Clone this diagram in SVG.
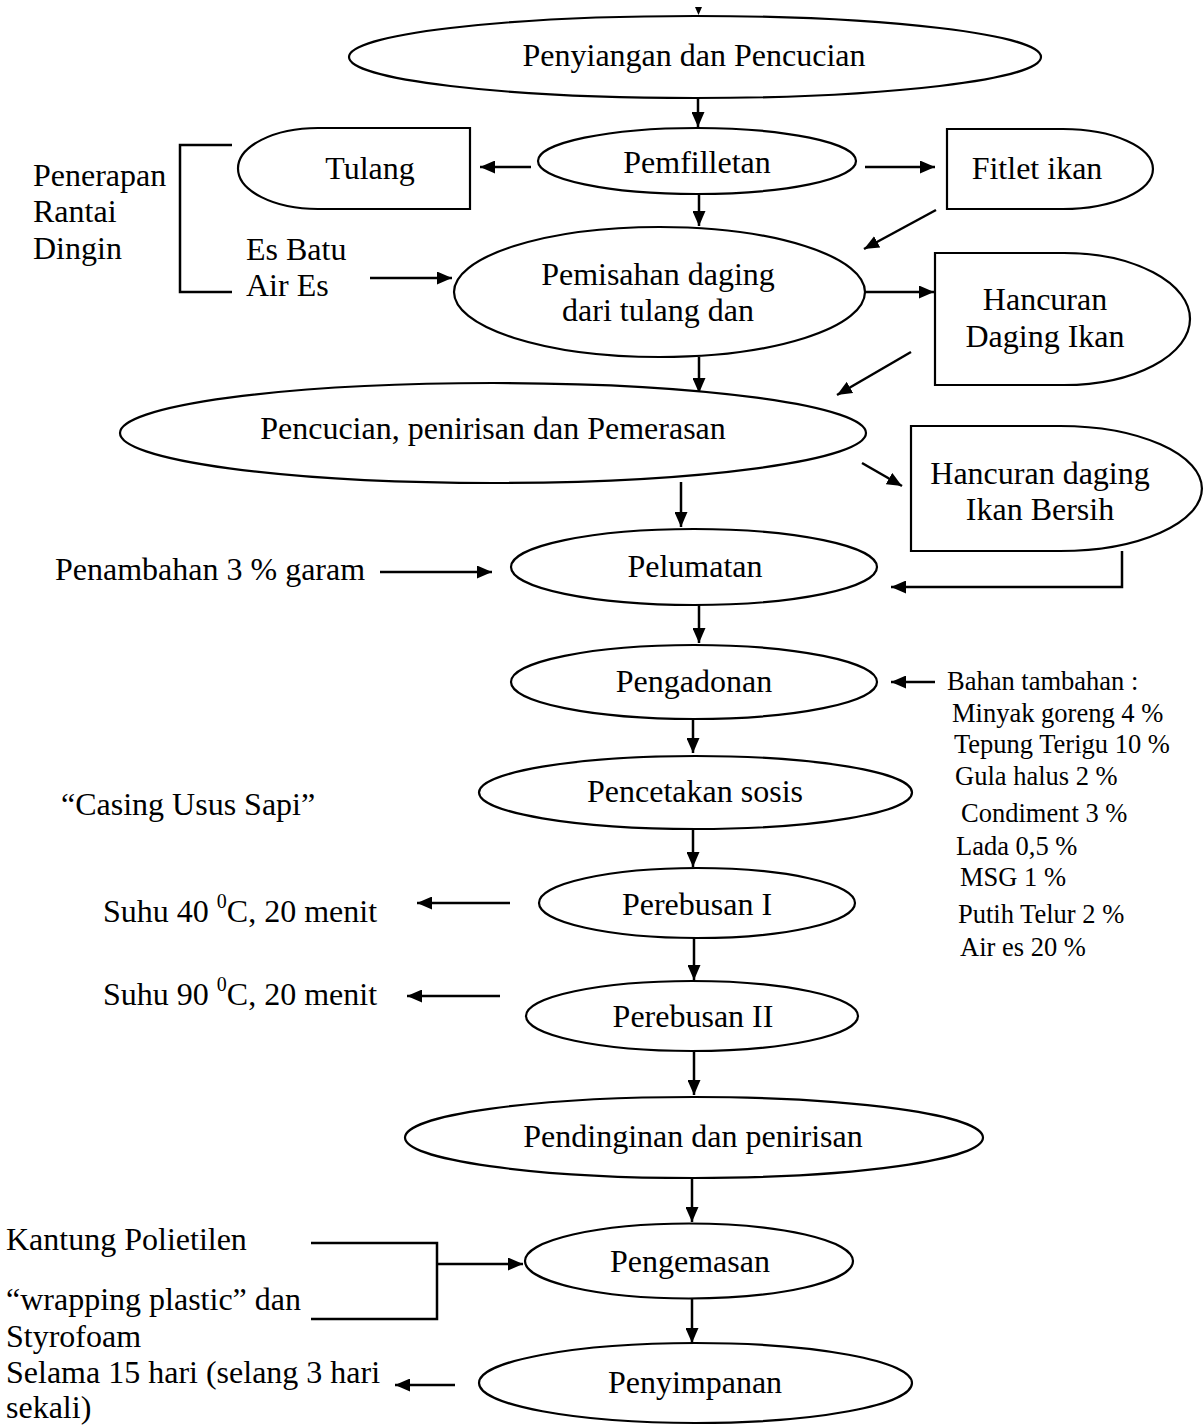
<svg xmlns="http://www.w3.org/2000/svg" width="1203" height="1427" viewBox="0 0 1203 1427">
<style>
.n{fill:#fff;stroke:#000;stroke-width:2.2}
.t{font-family:"Liberation Serif","Times New Roman",serif;font-size:32px;fill:#000}
.c{text-anchor:middle}
.s{font-family:"Liberation Serif","Times New Roman",serif;font-size:26.5px;fill:#000}
.e{fill:none;stroke:#000;stroke-width:2.5}
</style>
<defs>
<marker id="ah" viewBox="0 0 15 13" refX="15" refY="6.5" markerWidth="15" markerHeight="13" markerUnits="userSpaceOnUse" orient="auto">
<path d="M0,0 L15,6.5 L0,13 z" fill="#000"/>
</marker>
</defs>
<rect width="1203" height="1427" fill="#fff"/>

<g id="connectors">
<polygon points="695,7 702,7 698.5,15" fill="#000"/>
<line class="e" x1="698" y1="99" x2="698" y2="127" marker-end="url(#ah)"/>
<line class="e" x1="531" y1="167" x2="480" y2="167" marker-end="url(#ah)"/>
<line class="e" x1="865" y1="167" x2="935" y2="167" marker-end="url(#ah)"/>
<line class="e" x1="699" y1="194" x2="699" y2="226" marker-end="url(#ah)"/>
<line class="e" x1="936" y1="210" x2="864" y2="249" marker-end="url(#ah)"/>
<polyline class="e" points="232,145 180,145 180,292 232,292"/>
<line class="e" x1="370" y1="278" x2="452" y2="278" marker-end="url(#ah)"/>
<line class="e" x1="862" y1="292" x2="934" y2="292" marker-end="url(#ah)"/>
<line class="e" x1="699" y1="357" x2="699" y2="393" marker-end="url(#ah)"/>
<line class="e" x1="911" y1="352" x2="837" y2="395" marker-end="url(#ah)"/>
<line class="e" x1="862" y1="463" x2="902" y2="486" marker-end="url(#ah)"/>
<line class="e" x1="681" y1="482" x2="681" y2="527" marker-end="url(#ah)"/>
<line class="e" x1="380" y1="572" x2="492" y2="572" marker-end="url(#ah)"/>
<polyline class="e" points="1122,551 1122,587 891,587" marker-end="url(#ah)"/>
<line class="e" x1="699" y1="605" x2="699" y2="643" marker-end="url(#ah)"/>
<line class="e" x1="935" y1="682" x2="891" y2="682" marker-end="url(#ah)"/>
<line class="e" x1="693" y1="719" x2="693" y2="753" marker-end="url(#ah)"/>
<line class="e" x1="693" y1="829" x2="693" y2="867" marker-end="url(#ah)"/>
<line class="e" x1="510" y1="903" x2="417" y2="903" marker-end="url(#ah)"/>
<line class="e" x1="694" y1="938" x2="694" y2="980" marker-end="url(#ah)"/>
<line class="e" x1="500" y1="996" x2="407" y2="996" marker-end="url(#ah)"/>
<line class="e" x1="694" y1="1051" x2="694" y2="1095" marker-end="url(#ah)"/>
<line class="e" x1="692" y1="1178" x2="692" y2="1222" marker-end="url(#ah)"/>
<polyline class="e" points="311,1243 437,1243 437,1319 311,1319"/>
<line class="e" x1="437" y1="1264" x2="523" y2="1264" marker-end="url(#ah)"/>
<line class="e" x1="692" y1="1298" x2="692" y2="1343" marker-end="url(#ah)"/>
<line class="e" x1="455" y1="1385" x2="395" y2="1385" marker-end="url(#ah)"/>
</g>

<g id="n1"><ellipse class="n" cx="695" cy="57" rx="346" ry="41"/><text class="t c" x="694" y="66">Penyiangan dan Pencucian</text></g>
<g id="n2"><ellipse class="n" cx="697" cy="161" rx="159" ry="33"/><text class="t c" x="697" y="173">Pemfilletan</text></g>
<g id="n-tulang"><path class="n" d="M318,128 H470 V209 H318 A80 40.5 0 0 1 318 128 Z"/><text class="t c" x="370" y="179">Tulang</text></g>
<g id="n-fitlet"><path class="n" d="M947,129 H1063 A90 40 0 0 1 1063 209 H947 Z"/><text class="t c" x="1037" y="179">Fitlet ikan</text></g>
<g id="n3"><ellipse class="n" cx="659.5" cy="292" rx="205.5" ry="65"/><text class="t c" x="658" y="285">Pemisahan daging</text><text class="t c" x="658" y="321">dari tulang dan</text></g>
<g id="n-hancuran"><path class="n" d="M935,253 H1064 A126 66 0 0 1 1064 385 H935 Z"/><text class="t c" x="1045" y="310">Hancuran</text><text class="t c" x="1045" y="347">Daging Ikan</text></g>
<g id="n4"><ellipse class="n" cx="493" cy="433" rx="373" ry="50"/><text class="t c" x="493" y="439">Pencucian, penirisan dan Pemerasan</text></g>
<g id="n-bersih"><path class="n" d="M911,426 H1060 A142 62.5 0 0 1 1060 551 H911 Z"/><text class="t c" x="1040" y="484">Hancuran daging</text><text class="t c" x="1040" y="520">Ikan Bersih</text></g>
<g id="n5"><ellipse class="n" cx="694" cy="567" rx="183" ry="38"/><text class="t c" x="695" y="577">Pelumatan</text></g>
<g id="n6"><ellipse class="n" cx="694" cy="682" rx="183" ry="37"/><text class="t c" x="694" y="692">Pengadonan</text></g>
<g id="n7"><ellipse class="n" cx="695.5" cy="792.5" rx="216.5" ry="36.5"/><text class="t c" x="695" y="802">Pencetakan sosis</text></g>
<g id="n8"><ellipse class="n" cx="697" cy="903" rx="158" ry="35"/><text class="t c" x="697" y="915">Perebusan I</text></g>
<g id="n9"><ellipse class="n" cx="692" cy="1016" rx="166" ry="35"/><text class="t c" x="693" y="1027">Perebusan II</text></g>
<g id="n10"><ellipse class="n" cx="694" cy="1137.5" rx="289" ry="40.5"/><text class="t c" x="693" y="1147">Pendinginan dan penirisan</text></g>
<g id="n11"><ellipse class="n" cx="689" cy="1261" rx="164" ry="37.5"/><text class="t c" x="690" y="1272">Pengemasan</text></g>
<g id="n12"><ellipse class="n" cx="695.5" cy="1383" rx="216.5" ry="40"/><text class="t c" x="695" y="1393">Penyimpanan</text></g>

<g id="labels">
<text class="t" x="33" y="186">Penerapan</text>
<text class="t" x="33" y="222">Rantai</text>
<text class="t" x="33" y="259">Dingin</text>
<text class="t" x="246" y="260">Es Batu</text>
<text class="t" x="246" y="296">Air Es</text>
<text class="t" x="55" y="580">Penambahan 3 % garam</text>
<text class="t" x="61" y="815">“Casing Usus Sapi”</text>
<text class="t" x="103" y="922">Suhu 40 <tspan font-size="20" dy="-14">0</tspan><tspan dy="14">C, 20 menit</tspan></text>
<text class="t" x="103" y="1005">Suhu 90 <tspan font-size="20" dy="-14">0</tspan><tspan dy="14">C, 20 menit</tspan></text>
<text class="t" x="6" y="1250">Kantung Polietilen</text>
<text class="t" x="6" y="1310">“wrapping plastic” dan</text>
<text class="t" x="6" y="1347">Styrofoam</text>
<text class="t" x="6" y="1383">Selama 15 hari (selang 3 hari</text>
<text class="t" x="6" y="1418">sekali)</text>
<text class="s" x="947" y="690" font-size="30">Bahan tambahan :</text>
<text class="s" x="952" y="722">Minyak goreng 4 %</text>
<text class="s" x="954" y="753">Tepung Terigu 10 %</text>
<text class="s" x="955" y="785">Gula halus 2 %</text>
<text class="s" x="961" y="822">Condiment 3 %</text>
<text class="s" x="956" y="855">Lada 0,5 %</text>
<text class="s" x="960" y="886">MSG 1 %</text>
<text class="s" x="958" y="923">Putih Telur 2 %</text>
<text class="s" x="960" y="956">Air es 20 %</text>
</g>
</svg>
